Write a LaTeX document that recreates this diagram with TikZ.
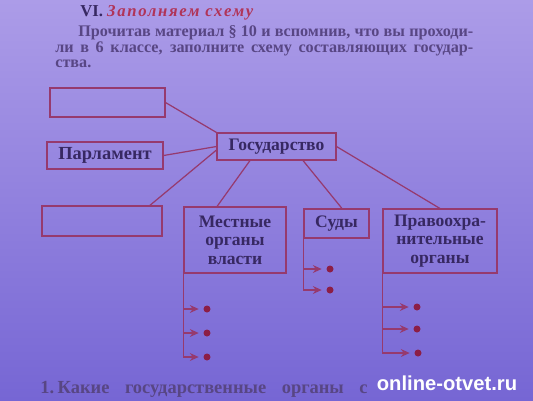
\documentclass[tikz,border=0pt]{standalone}
\usepackage{fontspec}
\setmainfont{Liberation Serif}
\newfontfamily\wmfont{Liberation Sans}
\usetikzlibrary{arrows.meta}

\definecolor{papertop}{RGB}{172,156,232}
\definecolor{paperbot}{RGB}{118,102,212}
\definecolor{inkline}{RGB}{150,58,110}
\definecolor{inktext}{RGB}{55,40,98}
\definecolor{greytext}{RGB}{88,70,132}
\definecolor{headred}{RGB}{176,52,88}
\definecolor{dotred}{RGB}{140,30,70}

\begin{document}
\begin{tikzpicture}[x=0.02cm,y=-0.02cm,
  box/.style={draw=inkline,line width=0.6pt,text=inktext,align=center,inner sep=0pt,
    font=\bfseries\fontsize{10}{10.5}\selectfont},
  link/.style={draw=inkline,line width=0.7pt},
  arr/.style={link,-{Stealth[length=5pt,width=4.5pt]},shorten >=0.09cm},
  dot/.style={circle,fill=dotred,inner sep=0pt,minimum size=0.14cm},
  txtline/.style={anchor=base west,inner sep=0pt,text=greytext,
    font=\bfseries\fontsize{9.2}{11}\selectfont}]

% page
\useasboundingbox (0,0) rectangle (533,400);
\shade[top color=papertop,bottom color=paperbot] (0,0) rectangle (533,400);

% heading and task
\node[txtline,text=inktext,font=\bfseries\fontsize{9.5}{11}\selectfont] (head) at (80,16)
  {VI. {\color{headred}\itshape\addfontfeature{LetterSpace=10}Заполняем схему}};
\node[txtline] (task1) at (78,36) {\makebox[7.9cm][s]{Прочитав материал § 10 и вспомнив, что вы проходи-}};
\node[txtline] (task2) at (55,52) {\makebox[8.36cm][s]{ли в 6 классе, заполните схему составляющих государ-}};
\node[txtline] (task3) at (55,67) {ства.};

% boxes
\node[box,minimum width=2.3cm,minimum height=0.58cm] (blank1) at (107.5,102.5) {};
\node[box,minimum width=2.32cm,minimum height=0.54cm,font=\bfseries\fontsize{10.5}{11}\selectfont] (parl) at (105,155.5) {Парламент};
\node[box,minimum width=2.4cm,minimum height=0.6cm] (blank2) at (102,221) {};
\node[box,minimum width=2.38cm,minimum height=0.54cm] (gos) at (276.5,146.5) {Государство};
\node[box,minimum width=2.04cm,minimum height=1.32cm] (mestn) at (235,240) {Местные\\органы\\власти};
\node[box,minimum width=1.3cm,minimum height=0.58cm] (sudy) at (336.5,223.5) {Суды};
\node[box,minimum width=2.28cm,minimum height=1.28cm] (pravo) at (440,241) {Правоохра-\\нительные\\органы};

% links to the state
\draw[link] (blank1.east) -- (gos.north west);
\draw[link] (parl.east) -- (gos.west);
\draw[link] (blank2.18) -- ([yshift=-0.07cm]gos.west);
\draw[link] ([xshift=-0.53cm]gos.south) -- ([xshift=-0.36cm]mestn.north);
\draw[link] ([xshift=0.53cm]gos.south) -- ([xshift=0.11cm]sudy.north);
\draw[link] (gos.east) -- (pravo.north);

% points to fill in
\node[dot] (mestn1) at (207,309) {};
\node[dot] (mestn2) at (207,333) {};
\node[dot] (mestn3) at (207,357) {};
\node[dot] (sudy1) at (330,269) {};
\node[dot] (sudy2) at (330,290) {};
\node[dot] (pravo1) at (417,307) {};
\node[dot] (pravo2) at (417,329) {};
\node[dot] (pravo3) at (418,353) {};

\draw[arr] (mestn.south west) |- (mestn3);
\foreach \i in {1,2}
  \draw[arr] (mestn.south west |- mestn\i) -- (mestn\i);
\draw[arr] (sudy.south west) |- (sudy2);
\draw[arr] (sudy.south west |- sudy1) -- (sudy1);
\draw[arr] (pravo.south west) |- (pravo3);
\foreach \i in {1,2}
  \draw[arr] (pravo.south west |- pravo\i) -- (pravo\i);

% next question
\node[txtline,font=\bfseries\fontsize{10.5}{12}\selectfont] (quest) at (40,393)
  {1.\kern2pt\makebox[6.2cm][s]{Какие государственные органы с}};

% watermark
\node[text=white,inner sep=0pt,font=\wmfont\bfseries\fontsize{11.5}{13}\selectfont] (mark) at (447,383) {online-otvet.ru};

\end{tikzpicture}
\end{document}
